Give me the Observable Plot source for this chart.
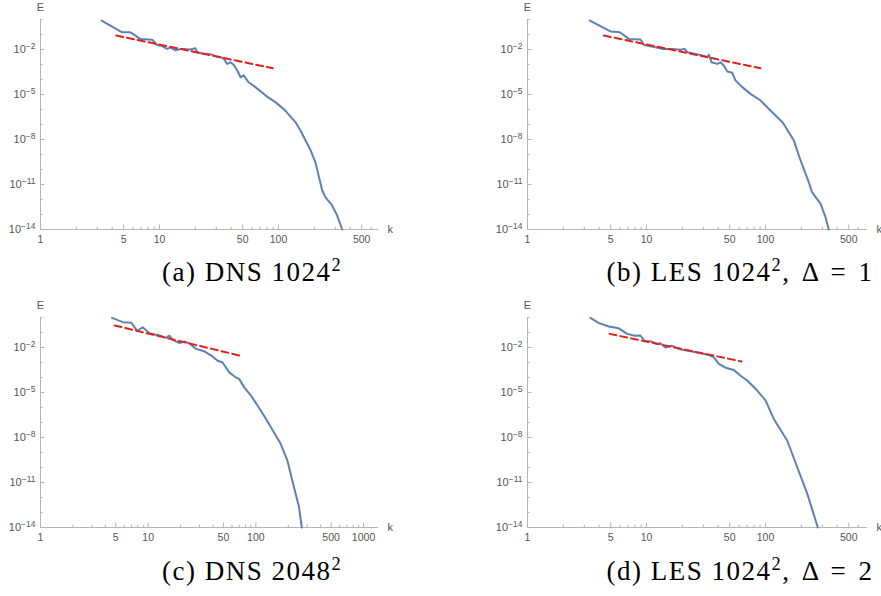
<!DOCTYPE html>
<html>
<head>
<meta charset="utf-8">
<script src="https://cdn.jsdelivr.net/npm/d3@7"></script>
<script src="https://cdn.jsdelivr.net/npm/@observablehq/plot@0.6"></script>
<style>
  html, body { margin: 0; padding: 0; background: #fff; }
  body { width: 881px; height: 596px; position: relative; overflow: hidden; }
  .panel { position: absolute; }
  .panel svg { overflow: visible; }
  .cap { position: absolute; font-family: "Liberation Serif", "Times New Roman", serif; font-size: 27px; line-height: 27px;
         letter-spacing: 1.5px; white-space: nowrap; color: #000; transform: translateX(-50%); }
  .cap .sp { font-size: 0.68em; position: relative; top: -0.55em; }
  .cap .tail { word-spacing: 3px; }
</style>
</head>
<body>
<div id="root"></div>
<script>
// ---------- data ----------
// (a) DNS 1024^2
const kA = [3.26, 4.86, 5.7, 6.9, 8.7, 9.55, 10.5, 11.6, 12.4, 13.6, 15.5, 18.2, 20, 20.7, 22.8, 26.8, 29.6, 32.6, 34.7, 37, 39.5, 42, 45, 48, 51, 56, 64, 78, 94, 114, 139, 153, 186, 204, 233, 248, 282, 311, 343];
const EA = [0.85, 0.14, 0.14, 0.051, 0.045, 0.020, 0.017, 0.011, 0.0135, 0.0089, 0.011, 0.010, 0.0123, 0.0066, 0.0054, 0.0049, 0.0036, 0.0031, 0.0024, 0.0011, 0.0014, 9.5e-4, 4.0e-4, 1.4e-4, 1.9e-4, 6.6e-5, 3.1e-5, 8.5e-6, 3.1e-6, 8.5e-7, 1.4e-7, 4.0e-8, 1.9e-9, 3.1e-10, 4.0e-12, 1.4e-12, 4.0e-13, 8.5e-14, 1e-14];
const refKA = [4.33, 89.5];
const refEA = [0.085, 5.6e-4];

// (b) LES 1024^2, Δ = 1
const kB = [3.34, 4.98, 5.97, 7.1, 8.9, 9.5, 10.5, 11.9, 13.5, 16.4, 19.3, 20.9, 22, 25.8, 29.4, 32.3, 33.5, 35.2, 39.3, 41.8, 44.6, 47.7, 52.5, 56, 63.7, 74.8, 90.8, 110, 140, 173, 197, 231, 246, 290, 319, 340];
const EB = [0.85, 0.16, 0.14, 0.051, 0.047, 0.021, 0.017, 0.014, 0.011, 0.011, 0.0095, 0.011, 0.0066, 0.0051, 0.0040, 0.0031, 0.0045, 0.0014, 0.0011, 0.0014, 8.5e-4, 3.4e-4, 2.8e-4, 8.5e-5, 3.1e-5, 1.1e-5, 4.0e-6, 8.5e-7, 1.3e-7, 8.5e-9, 4.0e-10, 1.4e-11, 3.1e-12, 5.1e-13, 6.6e-14, 1e-14];
const refKB = [4.38, 90.8];
const refEB = [0.085, 5.6e-4];

// (c) DNS 2048^2
const kC = [4.61, 5.83, 6.96, 7.9, 8.9, 10.3, 12.7, 14.7, 15.7, 16.9, 19.5, 21.7, 24.1, 27.8, 33.2, 38.3, 44.2, 49.1, 56.6, 65.3, 70, 78, 90, 104, 124, 138, 170, 196, 226, 252, 267];
const EC = [0.95, 0.49, 0.45, 0.13, 0.22, 0.089, 0.063, 0.045, 0.063, 0.032, 0.020, 0.025, 0.019, 0.0081, 0.0056, 0.0030, 0.0013, 0.0010, 2.2e-4, 1.0e-4, 8.1e-5, 2.2e-5, 6.3e-6, 1.3e-6, 1.8e-7, 4.9e-8, 3.8e-9, 3.0e-10, 4.9e-12, 2.2e-13, 1e-14];
const refKC = [4.88, 75.3];
const refEC = [0.295, 0.0026];

// (d) LES 1024^2, Δ = 2
const kD = [3.38, 3.98, 4.82, 5.85, 6.88, 7.98, 8.9, 9.7, 10.8, 12.3, 13.1, 14.4, 16.4, 17.5, 20, 24.2, 28.4, 33.4, 36.8, 40.5, 46.1, 54.2, 61.7, 70.2, 82.4, 100, 117, 152, 185, 224, 275];
const ED = [0.95, 0.42, 0.25, 0.19, 0.081, 0.060, 0.063, 0.026, 0.026, 0.017, 0.019, 0.010, 0.013, 0.010, 0.0071, 0.0054, 0.0042, 0.0032, 0.0022, 8.1e-4, 4.5e-4, 3.2e-4, 1.3e-4, 6.3e-5, 1.8e-5, 3.0e-6, 1.8e-7, 6.3e-9, 1.0e-10, 1.8e-12, 1e-14];
const refKD = [4.89, 62.9];
const refED = [0.081, 0.00117];

// ticks
const xMajor = [1, 5, 10, 50, 100, 500];
const xMajorC = [1, 5, 10, 50, 100, 500, 1000];
const xMinor = [2, 3, 4, 6, 7, 8, 9, 20, 30, 40, 60, 70, 80, 90, 200, 300, 400, 600];
const xMinorC = [2, 3, 4, 6, 7, 8, 9, 20, 30, 40, 60, 70, 80, 90, 200, 300, 400, 600, 700, 800, 900];
const yMajor = [1e-14, 1e-11, 1e-8, 1e-5, 1e-2];
const yMinor = [1e-13, 1e-12, 1e-10, 1e-9, 1e-7, 1e-6, 1e-4, 1e-3, 1e-1, 1];

const captions = ["(a) DNS 1024", "(b) LES 1024", "(c) DNS 2048", "(d) LES 1024"];
const captionTails = ["", ", Δ = 1", "", ", Δ = 2"];

// ---------- drawing ----------
const AXIS = "#b4b4b4";
const LABEL = "#555555";
const BLUE = "#5E81B5";
const RED = "#E3211C";

function makePanel({k, E, refK, refE, xMax, xMaj, xMin, left, top, width, marginLeft, xRight}) {
  const H = 250, mt = 19, mb = 21;
  const frameH = H - mt - mb;
  const frameW = xRight - marginLeft;
  const curve = k.map((v, i) => ({k: v, E: E[i]}));
  const ref = refK.map((v, i) => ({k: v, E: refE[i]}));
  const svg = Plot.plot({
    width, height: H,
    marginLeft, marginRight: width - xRight, marginTop: mt, marginBottom: mb,
    style: {fontFamily: '"Liberation Sans", Arial, sans-serif', fontSize: "10.5px", color: LABEL, background: "transparent"},
    x: {type: "log", domain: [1, xMax], axis: null},
    y: {type: "log", domain: [1e-14, 1]},
    marks: [
      Plot.ruleY([1e-14], {stroke: AXIS}),
      Plot.ruleX([1], {stroke: AXIS}),
      Plot.tickX(xMin, {x: d => d, stroke: AXIS, insetTop: frameH - 2.5}),
      Plot.tickX(xMaj, {x: d => d, stroke: AXIS, insetTop: frameH - 4.5}),
      Plot.tickY(yMinor, {y: d => d, stroke: AXIS, insetRight: frameW - 2.5}),
      Plot.tickY(yMajor, {y: d => d, stroke: AXIS, insetRight: frameW - 4.5}),
      Plot.text(xMaj, {x: d => d, y: 1e-14, text: d => String(d), dy: 10, lineAnchor: "middle", fill: LABEL}),
      Plot.axisY({ticks: yMajor, tickSize: 0, tickPadding: 5, tickFormat: d => "10^" + Math.round(Math.log10(d)), label: null, fill: LABEL, fontSize: 11}),
      Plot.line(curve, {x: "k", y: "E", stroke: BLUE, strokeWidth: 2, strokeLinejoin: "round"}),
      Plot.line(ref, {x: "k", y: "E", stroke: RED, strokeWidth: 2, strokeDasharray: "7,4"}),
      Plot.text(["E"], {x: 1, y: 1, text: d => d, dy: -12, fill: LABEL, fontSize: 11}),
      Plot.text(["k"], {x: xMax, y: 1e-14, text: d => d, dx: 9, textAnchor: "start", fill: LABEL, fontSize: 11})
    ]
  });
  // superscripted exponents on the y tick labels
  d3.select(svg).selectAll('g[aria-label="y-axis tick label"] text').each(function () {
    const s = this.textContent;
    if (!s.includes("^")) return;
    const [b, e] = s.split("^");
    const t = d3.select(this);
    t.text(null);
    t.append("tspan").text(b);
    t.append("tspan").attr("dy", "-0.5em").attr("font-size", "8.5px").text(e.replace("-", "\u2212"));
  });
  const div = document.createElement("div");
  div.className = "panel";
  div.style.left = left + "px";
  div.style.top = top + "px";
  div.appendChild(svg);
  document.getElementById("root").appendChild(div);
}

makePanel({k: kA, E: EA, refK: refKA, refE: refEA, xMax: 692, xMaj: xMajor, xMin: xMinor, left: 0, top: 0, width: 440, marginLeft: 40, xRight: 378});
makePanel({k: kB, E: EB, refK: refKB, refE: refEB, xMax: 719, xMaj: xMajor, xMin: xMinor, left: 440, top: 0, width: 441, marginLeft: 87, xRight: 427});
makePanel({k: kC, E: EC, refK: refKC, refE: refEC, xMax: 1377, xMaj: xMajorC, xMin: xMinorC, left: 0, top: 298, width: 440, marginLeft: 40, xRight: 378});
makePanel({k: kD, E: ED, refK: refKD, refE: refED, xMax: 719, xMaj: xMajor, xMin: xMinor, left: 440, top: 298, width: 441, marginLeft: 87, xRight: 427});

// captions
const capPos = [[252, 259], [740, 259], [252, 558], [740, 558]];
captions.forEach((c, i) => {
  const d = document.createElement("div");
  d.className = "cap";
  d.style.left = capPos[i][0] + "px";
  d.style.top = capPos[i][1] + "px";
  d.appendChild(document.createTextNode(c));
  const s = document.createElement("span");
  s.className = "sp";
  s.textContent = "2";
  d.appendChild(s);
  if (captionTails[i]) {
    const t = document.createElement("span");
    t.className = "tail";
    t.textContent = captionTails[i];
    d.appendChild(t);
  }
  document.getElementById("root").appendChild(d);
});
</script>
</body>
</html>
